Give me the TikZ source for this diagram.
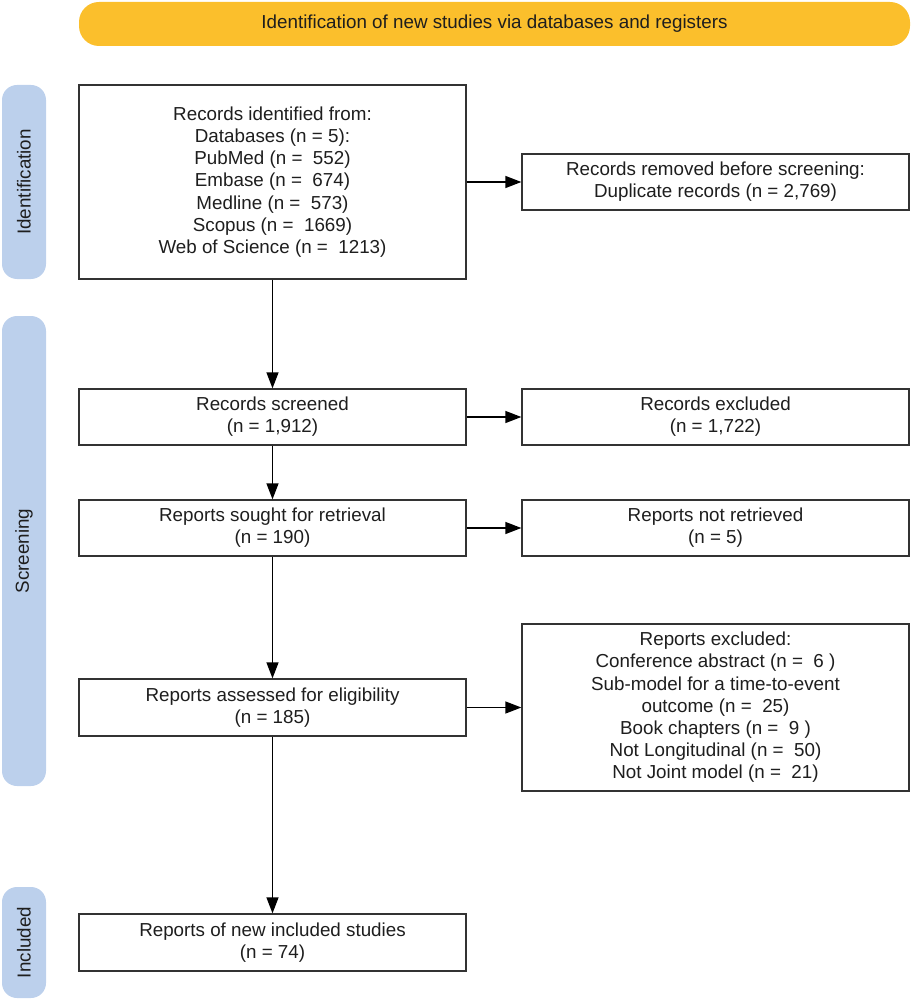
\documentclass[tikz,border=0pt]{standalone}
\usepackage{fontspec}
\setmainfont{Liberation Sans}
\usetikzlibrary{arrows.meta}
\definecolor{banner}{HTML}{FBBF2C}
\definecolor{pill}{HTML}{BCD0EC}
\definecolor{edge}{HTML}{333333}
\definecolor{ink}{HTML}{1E1E1E}
\begin{document}
\begin{tikzpicture}[x=1pt,y=-1pt,
  every node/.style={font=\fontsize{18.8}{22.2}\selectfont, text=ink},
  flowbox/.style={draw=edge, line width=1.3pt, fill=white, minimum width=387pt, inner sep=0pt, align=center},
  sidepill/.style={fill=pill, rounded corners=15pt, minimum width=44pt, inner sep=0pt},
  topbanner/.style={fill=banner, rounded corners=20pt, minimum width=831pt, minimum height=44pt, inner sep=0pt},
  conn/.style={line width=1.3pt, draw=black, -{Triangle[length=16pt,width=12pt]}}
]
\useasboundingbox (0,0) rectangle (911,1000);

\node[topbanner] (banner) at (494.5,24) {Identification of new studies via databases and registers};

\node[sidepill, minimum height=194pt] (pid) at (24,182) {};
\node[rotate=90] (pidt) at (pid.center) {Identification};
\node[sidepill, minimum height=470pt] (psc) at (24,551) {};
\node[rotate=90] (psct) at (psc.center) {Screening};
\node[sidepill, minimum height=111pt] (pin) at (24,942.5) {};
\node[rotate=90] (pint) at (pin.center) {Included};

\node[flowbox, minimum height=194pt] (ident) at (272.5,182) {Records identified from:\\Databases (n = 5):\\PubMed (n =\ \ 552)\\Embase (n =\ \ 674)\\Medline (n =\ \ 573)\\Scopus (n =\ \ 1669)\\Web of Science (n =\ \ 1213)};
\node[flowbox, minimum height=56pt] (removed) at (715.5,182) {Records removed before screening:\\Duplicate records (n = 2,769)};

\node[flowbox, minimum height=56pt] (screened) at (272.5,417) {Records screened\\(n = 1,912)};
\node[flowbox, minimum height=56pt] (excluded) at (715.5,417) {Records excluded\\(n = 1,722)};

\node[flowbox, minimum height=56pt] (sought) at (272.5,528) {Reports sought for retrieval\\(n = 190)};
\node[flowbox, minimum height=56pt] (notret) at (715.5,528) {Reports not retrieved\\(n = 5)};

\node[flowbox, minimum height=57pt] (assessed) at (272.5,707.5) {Reports assessed for eligibility\\(n = 185)};
\node[flowbox, minimum height=167pt] (repexcl) at (715.5,707.5) {Reports excluded:\\Conference abstract (n =\ \ 6 )\\Sub-model for a time-to-event\\outcome (n =\ \ 25)\\Book chapters (n =\ \ 9 )\\Not Longitudinal (n =\ \ 50)\\Not Joint model (n =\ \ 21)};

\node[flowbox, minimum height=57pt] (final) at (272.5,942.5) {Reports of new included studies\\(n = 74)};

\draw[conn] (ident) -- (removed);
\draw[conn] (ident) -- (screened);
\draw[conn] (screened) -- (excluded);
\draw[conn] (screened) -- (sought);
\draw[conn] (sought) -- (notret);
\draw[conn] (sought) -- (assessed);
\draw[conn] (assessed) -- (repexcl);
\draw[conn] (assessed) -- (final);
\end{tikzpicture}
\end{document}
